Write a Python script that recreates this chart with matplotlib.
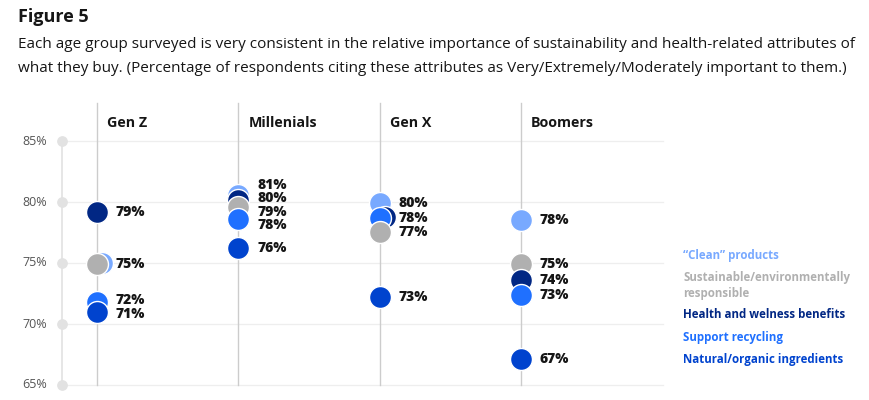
import matplotlib
matplotlib.use('Agg')
import matplotlib.pyplot as plt
import numpy as np

plt.rcParams['font.family'] = ['Open Sans', 'DejaVu Sans']

# данные
groups = ['Gen Z', 'Millenials', 'Gen X', 'Boomers']
series = ['\u201cClean\u201d products', 'Sustainable/environmentally\nresponsible',
          'Health and welness benefits', 'Support recycling', 'Natural/organic ingredients']
clean = [75.0, 80.6, 79.9, 78.5]
sustainable = [74.9, 79.6, 77.5, 74.9]
health = [79.2, 80.2, 78.75, 73.6]
recycling = [71.8, 78.6, 78.65, 72.4]
natural = [71.0, 76.2, 72.2, 67.1]
# подписи (как в оригинале)
clean_lbl = [75, 81, 80, 78]
sustainable_lbl = [75, 79, 77, 75]
health_lbl = [79, 80, 78, 74]
recycling_lbl = [72, 78, 78, 73]
natural_lbl = [71, 76, 73, 67]
yticks = [65, 70, 75, 80, 85]

colors = ['#78a9ff', '#b0b0b0', '#012784', '#1f70ff', '#0043ce']
values = [clean, sustainable, health, recycling, natural]
labels = [clean_lbl, sustainable_lbl, health_lbl, recycling_lbl, natural_lbl]

W, H = 870, 400
fig = plt.figure(figsize=(W / 100, H / 100), dpi=100)

# оси: пиксели -> данные
px_x = 141.3
px_y = 12.2
x0 = 97
ax = fig.add_axes([0, 0, 1, 0.75])
ax.set_xlim(-x0 / px_x, (W - x0) / px_x)
ax.set_ylim(65 - 15 / px_y, 85 + 41 / px_y)
ax.axis('off')

def px2x(p):
    return (p - x0) / px_x

# сетка
for t in yticks:
    ax.plot([px2x(62), px2x(663)], [t, t], color='#eeeeee', lw=0.9, zorder=0)
    ax.text(px2x(47), t, f'{t}%', ha='right', va='center', fontsize=9, color='#555555')
ax.plot([px2x(62), px2x(62)], [yticks[0], yticks[-1]], color='#e2e2e2', lw=1.2, zorder=1)
ax.scatter([px2x(62)] * len(yticks), yticks, s=45, color='#e2e2e2', zorder=2)

# вертикальные линии групп
for i, g in enumerate(groups):
    ax.plot([i, i], [65, 88.1], color='#cccccc', lw=1, zorder=1)
    ax.text(i + 10 / px_x, 86.5, g, ha='left', va='center', fontsize=10.3,
            fontweight='bold', color='#161616')

gap = 1.1
for i in range(len(groups)):
    vals = [v[i] for v in values]
    order = np.argsort(vals)[::-1]
    # точки: сверху вниз, нижние поверх
    for k, s in enumerate(order):
        dx = 0
        for s2 in order[k + 1:]:
            if abs(vals[s] - vals[s2]) < 0.3:
                dx = 5 / px_x
        ax.scatter(i + dx, vals[s], s=250, color=colors[s], edgecolor='white',
                   linewidth=1, zorder=3 + k)

    # подписи без перекрытий
    lbl = {}
    for s in order:
        lbl.setdefault(labels[s][i], []).append(vals[s])
    txt = list(lbl.keys())
    pos = [np.mean(lbl[t]) for t in txt]
    for _ in range(200):
        moved = False
        for j in range(1, len(pos)):
            d = pos[j - 1] - pos[j]
            if d < gap:
                shift = (gap - d) / 2
                pos[j - 1] += shift
                pos[j] -= shift
                moved = True
        if not moved:
            break
    for t, p in zip(txt, pos):
        ax.text(i + 19 / px_x, p, f'{t}%', ha='left', va='center', fontsize=10,
                fontweight='heavy', color='#161616')

# легенда
leg_y = [256, 285, 315, 337, 359]
for s, yy in enumerate(leg_y):
    fig.text(683 / W, 1 - yy / H, series[s], ha='left', va='center', fontsize=8.3,
             fontweight='bold', color=colors[s], linespacing=1.3)

# заголовок
fig.text(18 / W, 1 - 17 / H, 'Figure 5', ha='left', va='center', fontsize=13,
         fontweight='bold', color='#161616')
fig.text(18 / W, 1 - 45 / H,
         'Each age group surveyed is very consistent in the relative importance of sustainability and health-related attributes of',
         ha='left', va='center', fontsize=11, color='#161616')
fig.text(18 / W, 1 - 68 / H,
         'what they buy. (Percentage of respondents citing these attributes as Very/Extremely/Moderately important to them.)',
         ha='left', va='center', fontsize=11, color='#161616')

fig.savefig('out.png', dpi=100, facecolor='white')
plt.close(fig)
